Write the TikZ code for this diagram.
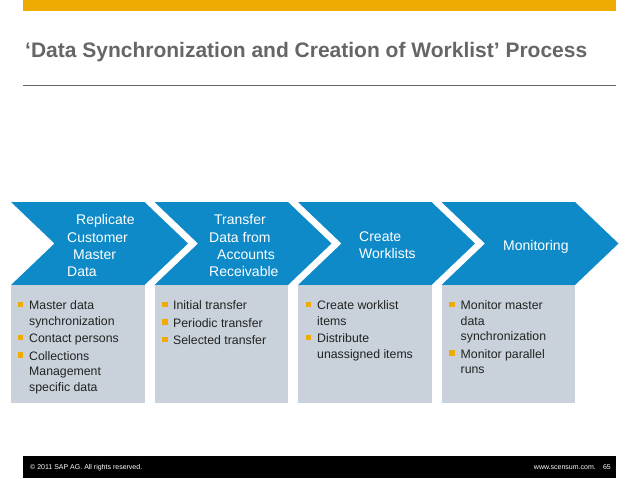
\documentclass[tikz,border=0pt]{standalone}
\usepackage{fontspec}
\setmainfont{Liberation Sans}
\definecolor{sapyellow}{RGB}{240,171,0}
\definecolor{sapblue}{RGB}{14,138,200}
\definecolor{boxgray}{RGB}{201,210,218}
\definecolor{titlegray}{RGB}{102,102,102}
\definecolor{bodytext}{RGB}{34,34,34}
\begin{document}
\begin{tikzpicture}[x=1pt,y=-1pt,
  ctext/.style={anchor=base west, inner sep=0pt, text=white, font=\fontsize{14}{16}\selectfont},
  btext/.style={anchor=base west, inner sep=0pt, text=bodytext, font=\fontsize{12.3}{15}\selectfont},
  bul/.style={fill=sapyellow, inner sep=0pt, minimum size=5.5pt, draw=none},
  ftext/.style={inner sep=0pt, text=white, font=\fontsize{7}{8}\selectfont}]
\useasboundingbox (0,0) rectangle (638,479);
\fill[white] (0,0) rectangle (638,479);
% top bar, title, rule
\fill[sapyellow] (23,0) rectangle (616,11);
\node[anchor=base west, inner sep=0pt, text=titlegray, font=\bfseries\fontsize{21}{24}\selectfont] (title) at (25,57) {‘Data Synchronization and Creation of Worklist’ Process};
\draw[titlegray, line width=0.8pt] (23,85) -- (616,85);
% chevrons and boxes
\foreach \k in {0,...,3} {
  \pgfmathsetmacro\L{11+143.5*\k}
  \pgfmathsetmacro\R{\L+133.5}
  \fill[sapblue] (\L,202) -- (\R,202) -- (\R+43.5,243.5) -- (\R,285) -- (\L,285) -- (\L+43.5,243.5) -- cycle;
  \fill[boxgray] (\L,285) rectangle (\R,403);
}
% chevron texts
\node[ctext] (c1a) at (76,224) {Replicate};
\node[ctext] (c1b) at (67,242) {Customer};
\node[ctext] (c1c) at (73,259) {Master};
\node[ctext] (c1d) at (67,276) {Data};
\node[ctext] (c2a) at (214,224) {Transfer};
\node[ctext] (c2b) at (209,242) {Data from};
\node[ctext] (c2c) at (217,259) {Accounts};
\node[ctext] (c2d) at (209,276) {Receivable};
\node[ctext] (c3a) at (359,241) {Create};
\node[ctext] (c3b) at (359,258) {Worklists};
\node[ctext] (c4a) at (503,250) {Monitoring};
% box 1
\node[bul] (b1a) at (20.25,304.5) {};
\node[btext] (t1a) at (29,309.5) {Master data};
\node[btext] (t1b) at (29,325) {synchronization};
\node[bul] (b1b) at (20.25,337.5) {};
\node[btext] (t1c) at (29,342.5) {Contact persons};
\node[bul] (b1c) at (20.25,355) {};
\node[btext] (t1d) at (29,360) {Collections};
\node[btext] (t1e) at (29,375.5) {Management};
\node[btext] (t1f) at (29,391) {specific data};
% box 2
\node[bul] (b2a) at (164.75,304.5) {};
\node[btext] (t2a) at (173,309.5) {Initial transfer};
\node[bul] (b2b) at (164.75,322) {};
\node[btext] (t2b) at (173,327) {Periodic transfer};
\node[bul] (b2c) at (164.75,339.5) {};
\node[btext] (t2c) at (173,344.5) {Selected transfer};
% box 3
\node[bul] (b3a) at (308.25,304.5) {};
\node[btext] (t3a) at (317,309.5) {Create worklist};
\node[btext] (t3b) at (317,325) {items};
\node[bul] (b3b) at (308.25,337.5) {};
\node[btext] (t3c) at (317,342.5) {Distribute};
\node[btext] (t3d) at (317,358) {unassigned items};
% box 4
\node[bul] (b4a) at (451.75,304.5) {};
\node[btext] (t4a) at (460.5,309.5) {Monitor master};
\node[btext] (t4b) at (460.5,325) {data};
\node[btext] (t4c) at (460.5,340.5) {synchronization};
\node[bul] (b4b) at (451.75,353) {};
\node[btext] (t4d) at (460.5,358) {Monitor parallel};
\node[btext] (t4e) at (460.5,373.5) {runs};
% footer
\fill[black] (23,456) rectangle (616,478);
\node[ftext, anchor=base west] (f1) at (30,469.5) {© 2011 SAP AG. All rights reserved.};
\node[ftext, anchor=base east] (f2) at (596,469.5) {www.scensum.com.};
\node[ftext, anchor=base east] (f3) at (611,469.5) {65};
\end{tikzpicture}
\end{document}
